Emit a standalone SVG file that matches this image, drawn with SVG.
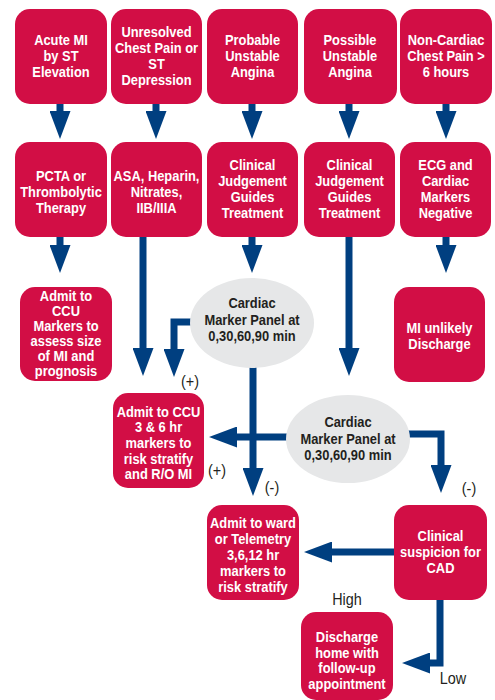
<svg xmlns="http://www.w3.org/2000/svg" width="495" height="700" viewBox="0 0 495 700">
<style>
.box rect{fill:#d20e45}
text{font-family:"Liberation Sans",Arial,sans-serif;text-anchor:middle;dominant-baseline:central;transform-box:fill-box;transform-origin:center;transform:scaleX(0.86)}
.box text{fill:#fff;font-weight:bold;font-size:15px}
.oval ellipse{fill:#e6e7e8}
.oval text{fill:#231f20;font-weight:bold;font-size:15px}
#labels text{fill:#231f20;font-size:16px;transform:scaleX(0.9)}
#connectors path{fill:none;stroke:#003f80;stroke-width:7;stroke-linejoin:miter;marker-end:url(#ah)}
</style>
<defs>
<marker id="ah" viewBox="0 0 28 21" refX="0" refY="10.5" markerWidth="28" markerHeight="21" markerUnits="userSpaceOnUse" orient="auto">
<path d="M0,0 L28,10.5 L0,21 Z" fill="#003f80"/>
</marker>
</defs>
<rect width="495" height="700" fill="#fff"/>

<g id="connectors">
<path d="M60,104 V111"/>
<path d="M156,104 V111"/>
<path d="M252,104 V111"/>
<path d="M349,104 V111"/>
<path d="M446,104 V111"/>
<path d="M60,237 V245"/>
<path d="M252,237 V245"/>
<path d="M446,237 V245"/>
<path d="M143,237 V348"/>
<path d="M349,237 V348"/>
<path d="M192,322 H174 V349"/>
<path d="M253,360 V468"/>
<path d="M290,437 H237"/>
<path d="M405,434 H441 V465"/>
<path d="M394,552 H332"/>
<path d="M440,600 V663 H430"/>
</g>

<g id="n1" class="box"><rect x="15" y="9" width="92" height="95" rx="15"/>
<text x="61" y="40">Acute MI</text><text x="61" y="56">by ST</text><text x="61" y="72">Elevation</text></g>
<g id="n2" class="box"><rect x="111" y="9" width="91" height="95" rx="15"/>
<text x="156.5" y="32">Unresolved</text><text x="156.5" y="48">Chest Pain or</text><text x="156.5" y="64">ST</text><text x="156.5" y="80">Depression</text></g>
<g id="n3" class="box"><rect x="207" y="9" width="91" height="95" rx="15"/>
<text x="252.5" y="40">Probable</text><text x="252.5" y="56">Unstable</text><text x="252.5" y="72">Angina</text></g>
<g id="n4" class="box"><rect x="304" y="9" width="93" height="95" rx="15"/>
<text x="350" y="40">Possible</text><text x="350" y="56">Unstable</text><text x="350" y="72">Angina</text></g>
<g id="n5" class="box"><rect x="400" y="9" width="92" height="95" rx="15"/>
<text x="446" y="40">Non-Cardiac</text><text x="446" y="56">Chest Pain &gt;</text><text x="446" y="72">6 hours</text></g>

<g id="n6" class="box"><rect x="15" y="142" width="92" height="95" rx="15"/>
<text x="61" y="176">PCTA or</text><text x="61" y="192">Thrombolytic</text><text x="61" y="208">Therapy</text></g>
<g id="n7" class="box"><rect x="111" y="142" width="91" height="95" rx="15"/>
<text x="156.5" y="176">ASA, Heparin,</text><text x="156.5" y="192">Nitrates,</text><text x="156.5" y="208">IIB/IIIA</text></g>
<g id="n8" class="box"><rect x="207" y="142" width="91" height="95" rx="15"/>
<text x="252.5" y="165">Clinical</text><text x="252.5" y="181">Judgement</text><text x="252.5" y="197">Guides</text><text x="252.5" y="213">Treatment</text></g>
<g id="n9" class="box"><rect x="304" y="142" width="91" height="95" rx="15"/>
<text x="349.5" y="165">Clinical</text><text x="349.5" y="181">Judgement</text><text x="349.5" y="197">Guides</text><text x="349.5" y="213">Treatment</text></g>
<g id="n10" class="box"><rect x="400" y="142" width="91" height="95" rx="15"/>
<text x="445.5" y="165">ECG and</text><text x="445.5" y="181">Cardiac</text><text x="445.5" y="197">Markers</text><text x="445.5" y="213">Negative</text></g>

<g id="n11" class="box"><rect x="20" y="287" width="92" height="94" rx="15"/>
<text x="66" y="296">Admit to</text><text x="66" y="311">CCU</text><text x="66" y="326">Markers to</text><text x="66" y="341">assess size</text><text x="66" y="356">of MI and</text><text x="66" y="371">prognosis</text></g>
<g id="n12" class="oval"><ellipse cx="252" cy="323" rx="62" ry="45"/>
<text x="252" y="303">Cardiac</text><text x="252" y="320">Marker Panel at</text><text x="252" y="336">0,30,60,90 min</text></g>
<g id="n13" class="box"><rect x="394" y="287" width="91" height="95" rx="15"/>
<text x="439.5" y="328">MI unlikely</text><text x="439.5" y="344">Discharge</text></g>

<g id="n14" class="oval"><ellipse cx="348" cy="439" rx="62" ry="44"/>
<text x="348" y="422">Cardiac</text><text x="348" y="439">Marker Panel at</text><text x="348" y="455">0,30,60,90 min</text></g>
<g id="n15" class="box"><rect x="113" y="393" width="91" height="95" rx="15"/>
<text x="158.5" y="412">Admit to CCU</text><text x="158.5" y="427">3 &amp; 6 hr</text><text x="158.5" y="443">markers to</text><text x="158.5" y="459">risk stratify</text><text x="158.5" y="474">and R/O MI</text></g>

<g id="n16" class="box"><rect x="207" y="505" width="92" height="95" rx="15"/>
<text x="253" y="523">Admit to ward</text><text x="253" y="539">or  Telemetry</text><text x="253" y="555">3,6,12 hr</text><text x="253" y="571">markers to</text><text x="253" y="587">risk stratify</text></g>
<g id="n17" class="box"><rect x="394" y="505" width="93" height="95" rx="15"/>
<text x="440.5" y="536">Clinical</text><text x="440.5" y="552">suspicion for</text><text x="440.5" y="568">CAD</text></g>
<g id="n18" class="box"><rect x="301" y="612" width="92" height="88" rx="15"/>
<text x="347" y="637">Discharge</text><text x="347" y="653">home with</text><text x="347" y="668">follow-up</text><text x="347" y="684">appointment</text></g>

<g id="labels">
<text x="190" y="381">(+)</text>
<text x="217" y="470">(+)</text>
<text x="272" y="487">(-)</text>
<text x="469" y="488">(-)</text>
<text x="347" y="599">High</text>
<text x="453" y="678">Low</text>
</g>
</svg>
